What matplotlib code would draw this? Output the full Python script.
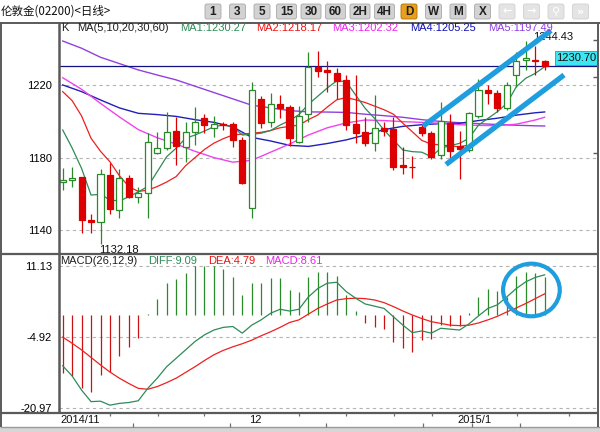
import matplotlib
matplotlib.use('Agg')
import matplotlib.pyplot as plt
from matplotlib.patches import Rectangle, FancyBboxPatch, Ellipse

W, H = 600, 432

# ---------------- data ----------------
opens = [1166.5, 1167.6, 1169.1, 1145.5, 1144.2, 1170.4, 1151.0, 1168.6, 1158.4, 1160.6,
         1182.4, 1185.2, 1194.7, 1186.0, 1194.3, 1201.7, 1196.5, 1198.6, 1198.4, 1189.7,
         1152.0, 1212.4, 1199.7, 1209.6, 1208.2, 1188.8, 1204.1, 1230.0, 1228.5, 1226.6,
         1222.9, 1198.4, 1194.3, 1188.0, 1196.2, 1195.7, 1175.9, 1174.8, 1197.1, 1193.5,
         1181.4, 1199.0, 1186.6, 1184.2, 1203.2, 1217.4, 1215.6, 1207.3, 1225.7, 1234.0,
         1234.0, 1233.4]
highs = [1174.3, 1174.6, 1169.5, 1148.8, 1173.7, 1176.9, 1173.5, 1170.4, 1164.0, 1193.5,
         1194.3, 1205.1, 1202.6, 1199.5, 1208.2, 1204.0, 1203.0, 1199.5, 1199.9, 1191.2,
         1222.0, 1214.2, 1215.6, 1214.6, 1209.0, 1208.6, 1238.6, 1239.1, 1233.6, 1229.4,
         1225.7, 1225.7, 1202.6, 1214.6, 1199.8, 1202.6, 1185.7, 1180.9, 1198.5, 1194.5,
         1210.6, 1204.0, 1194.7, 1205.0, 1223.5, 1220.2, 1217.4, 1222.0, 1238.6, 1244.43,
         1242.0, 1234.0]
lows = [1162.1, 1163.5, 1138.1, 1138.5, 1132.18, 1148.8, 1146.4, 1157.5, 1154.7, 1146.8,
        1181.8, 1184.2, 1175.9, 1177.4, 1187.0, 1193.5, 1191.5, 1195.5, 1186.0, 1165.5,
        1146.8, 1196.2, 1196.8, 1201.7, 1186.4, 1188.0, 1199.9, 1224.8, 1216.5, 1212.2,
        1195.3, 1188.3, 1186.4, 1183.8, 1192.0, 1173.2, 1170.9, 1168.6, 1192.0, 1179.5,
        1179.0, 1180.0, 1168.2, 1183.0, 1202.0, 1209.5, 1205.0, 1206.5, 1219.2, 1228.5,
        1225.7, 1228.6]
closes = [1167.6, 1168.9, 1145.5, 1144.4, 1171.0, 1151.4, 1168.6, 1158.4, 1160.6, 1188.5,
          1185.2, 1194.0, 1186.6, 1194.0, 1199.9, 1198.0, 1198.4, 1197.9, 1189.7, 1166.1,
          1217.4, 1199.0, 1209.6, 1207.6, 1190.7, 1203.0, 1230.0, 1228.0, 1227.2, 1222.5,
          1198.0, 1193.8, 1188.3, 1196.2, 1194.9, 1175.0, 1174.6, 1174.6, 1193.8, 1180.5,
          1200.2, 1183.7, 1184.8, 1204.5, 1217.4, 1215.6, 1207.3, 1220.2, 1233.4, 1234.9,
          1233.6, 1230.70]

ma1 = [1195.3, 1185.3, 1174.0, 1159.3, 1159.7, 1156.6, 1156.0, 1158.4, 1161.1, 1164.0,
       1172.2, 1180.5, 1185.2, 1190.7, 1192.5, 1194.7, 1197.1, 1198.0, 1197.1, 1192.5,
       1192.9, 1193.5, 1195.0, 1198.0, 1200.5, 1203.8, 1209.5, 1214.0, 1218.5, 1222.5,
       1222.0, 1214.6, 1207.3, 1201.7, 1195.3, 1189.7, 1184.2, 1183.3, 1183.0, 1180.5,
       1185.2, 1186.6, 1187.9, 1190.7, 1198.0, 1201.7, 1205.4, 1210.0, 1219.2, 1223.9,
       1226.6, 1230.27]
ma2 = [1216.5, 1211.5, 1203.0, 1190.7, 1183.5, 1177.7, 1170.0, 1164.0, 1161.3, 1162.0,
       1164.0, 1166.5, 1169.5, 1175.5, 1180.0, 1184.5, 1188.0, 1190.5, 1192.5, 1193.0,
       1193.5, 1194.0, 1195.0, 1196.5, 1197.3, 1198.0, 1201.0, 1203.6, 1208.0, 1212.0,
       1213.2, 1212.0, 1210.5, 1208.5, 1206.5, 1204.0, 1199.0, 1194.3, 1189.5, 1187.5,
       1187.0, 1186.5, 1186.0, 1187.0, 1189.0, 1193.0, 1197.0, 1200.8, 1204.5, 1209.0,
       1214.0, 1218.17]
slow_idx = [0, 2, 4, 6, 8, 10, 12, 14, 16, 18, 20, 22, 24, 26, 28, 30, 32, 34, 36, 38,
            40, 42, 44, 46, 48, 50, 51]
ma3 = [1224.2, 1217.8, 1210.0, 1202.5, 1195.5, 1191.0, 1187.5, 1183.5, 1180.0, 1177.5,
       1178.5, 1183.0, 1187.5, 1192.5, 1196.5, 1199.2, 1200.8, 1200.5, 1199.9, 1199.5,
       1199.0, 1198.2, 1197.8, 1197.7, 1198.5, 1200.8, 1202.32]
ma4 = [1220.2, 1216.5, 1211.9, 1207.5, 1204.5, 1203.8, 1202.8, 1201.0, 1199.5, 1197.0,
       1191.2, 1189.2, 1186.8, 1186.2, 1187.8, 1189.8, 1192.5, 1195.5, 1197.3, 1198.2,
       1198.8, 1199.0, 1200.5, 1201.8, 1203.5, 1204.8, 1205.25]
ma5 = [1244.5, 1240.5, 1235.5, 1232.0, 1228.5, 1225.7, 1223.0, 1219.5, 1216.0, 1212.5,
       1209.0, 1207.5, 1206.0, 1205.3, 1205.2, 1205.0, 1204.0, 1203.2, 1202.3, 1201.0,
       1200.0, 1199.3, 1198.8, 1198.3, 1197.9, 1197.6, 1197.49]

macd_hist = [-13.1, -13.9, -16.6, -17.4, -13.6, -12.8, -9.3, -7.2, -5.1, 0.3,
             3.6, 7.2, 8.1, 9.4, 11.1, 11.1, 11.1, 10.3, 8.7, 4.5,
             7.2, 7.2, 8.3, 8.3, 5.7, 5.2, 8.7, 9.8, 9.8, 8.8,
             4.5, 1.0, -1.9, -2.8, -3.2, -6.0, -7.5, -8.3, -5.7, -5.5,
             -2.3, -2.5, -2.5, 0.5, 4.1, 5.8, 5.5, 4.1, 8.8, 9.8,
             9.6, 8.61]
diff = [-11.5, -13.8, -17.0, -19.6, -19.5, -20.4, -20.0, -19.8, -19.4, -16.6,
        -14.3, -11.7, -9.8, -7.9, -6.0, -4.5, -3.4, -2.8, -2.6, -4.1,
        -2.3, -1.1, 0.4, 1.3, 0.9, 1.3, 4.1, 6.0, 7.2, 7.4,
        5.3, 3.8, 2.5, 2.0, 1.5, -0.4, -2.3, -4.0, -3.6, -4.1,
        -3.0, -3.2, -3.4, -2.0, -0.2, 1.5, 2.3, 4.1, 6.0, 7.5,
        8.5, 9.09]
dea = [-5.0, -6.4, -7.9, -9.6, -11.3, -12.9, -14.3, -15.5, -16.6, -16.8,
       -16.2, -15.3, -14.3, -13.0, -11.7, -10.3, -9.0, -8.0, -7.2, -6.5,
       -5.7, -4.7, -3.8, -2.8, -1.7, -1.1, 0.2, 1.5, 2.5, 3.4,
       3.7, 3.8, 3.7, 3.4, 2.8, 1.9, 0.9, 0.0, -0.8, -1.5,
       -1.9, -2.3, -2.4, -2.3, -1.8, -1.1, -0.3, 0.7, 1.6, 2.6,
       3.7, 4.79]

price_ticks = [1140, 1180, 1220]
macd_ticks = [-20.97, -4.92, 11.13]
date_labels = ['2014/11', '12', '2015/1']
date_label_idx = [0, 20, 42]
last_price = 1230.70
high_label = '1244.43'
low_label = '1132.18'

# hand-drawn channel and circle (data coordinates)
chan_up_x, chan_up_y = [38.13, 51.67], [1197.4, 1250.3]
chan_lo_x, chan_lo_y = [40.56, 53.05], [1176.2, 1225.7]
circle_center = (49.6, 5.66)
circle_size = (6.0, 11.9)

toolbar_buttons = ['1', '3', '5', '15', '30', '60', '2H', '4H', 'D', 'W', 'M', 'X']
title = '伦敦金(02200)<日线>'

legend_main = [('K', '#202020', 61), ('MA(5,10,20,30,60)', '#202020', 77),
               ('MA1:1230.27', '#2e8b57', 180), ('MA2:1218.17', '#ee1111', 256),
               ('MA3:1202.32', '#ee22ee', 332), ('MA4:1205.25', '#1010b0', 410),
               ('MA5:1197.49', '#9040e0', 488)]
legend_macd = [('MACD(26,12,9)', '#202020', 60), ('DIFF:9.09', '#2e8b57', 148),
               ('DEA:4.79', '#ee1111', 208), ('MACD:8.61', '#ee22ee', 265)]

# ---------------- layout helpers ----------------
plt.rcParams['font.family'] = ['Liberation Sans', 'DejaVu Sans']
fig = plt.figure(figsize=(6, 4.32), dpi=100, facecolor='white')

def rect(x0, y0, x1, y1):
    return [x0 / W, 1 - y1 / H, (x1 - x0) / W, (y1 - y0) / H]

PX0, PX1 = 59, 597
def idx_of(px):
    return (px - 62.7) / 9.45

ax = fig.add_axes(rect(PX0, 22, PX1, 253))
axm = fig.add_axes(rect(PX0, 255, PX1, 412))
for a in (ax, axm):
    a.set_xlim(idx_of(PX0), idx_of(PX1))
    for s in a.spines.values():
        s.set_visible(False)
    a.set_xticks([])
    a.set_facecolor('white')
    a.tick_params(axis='y', length=0, pad=5, labelsize=8, labelcolor='black')

ax.set_ylim(1220 - (253 - 85.3) / 1.808, 1220 + (85.3 - 22) / 1.808)
axm.set_ylim((315 - 412) / 4.42, (315 - 255) / 4.42)

ax.set_yticks(price_ticks)
ax.set_yticklabels([str(t) for t in price_ticks])
axm.set_yticks(macd_ticks)
axm.set_yticklabels([f'{t:.2f}' for t in macd_ticks])
for a in (ax, axm):
    a.grid(axis='y', linestyle=(0, (3, 3)), color='#b4b4b4', linewidth=0.8)
    a.set_axisbelow(True)

n = len(opens)
xs = list(range(n))
RED = '#dd0000'
GRN = '#2a8a2a'

# moving averages
ax.plot(slow_idx, ma5, color='#9040e0', lw=1.0, zorder=2)
ax.plot(slow_idx, ma4, color='#2020b8', lw=1.0, zorder=2)
ax.plot(slow_idx, ma3, color='#ee44ee', lw=1.0, zorder=2)
ax.plot(xs, ma2, color='#ee2020', lw=0.9, zorder=2)
ax.plot(xs, ma1, color='#2e8b57', lw=0.9, zorder=2)

# candles
for i in xs:
    o, h, l, c = opens[i], highs[i], lows[i], closes[i]
    col = GRN if c >= o else RED
    lo_b, hi_b = min(o, c), max(o, c)
    ax.plot([i, i], [l, lo_b], color=col, lw=0.9, zorder=3, solid_capstyle='butt')
    ax.plot([i, i], [hi_b, h], color=col, lw=0.9, zorder=3, solid_capstyle='butt')
    hgt = max(hi_b - lo_b, 0.4)
    if c >= o:
        ax.add_patch(Rectangle((i - 0.32, lo_b), 0.64, hgt, facecolor='white',
                               edgecolor=GRN, lw=0.9, zorder=4))
    else:
        ax.add_patch(Rectangle((i - 0.32, lo_b), 0.64, hgt, facecolor=RED,
                               edgecolor=RED, lw=0.9, zorder=4))

# last price line and labels
ax.axhline(last_price, color='#101080', lw=0.9, zorder=2.5)
i_hi = highs.index(max(highs))
ax.text(i_hi + 0.75, max(highs) + 2.3, high_label, fontsize=8, color='#101010',
        ha='left', va='center', zorder=6, clip_on=False)
i_lo = lows.index(min(lows))
ax.text(i_lo - 0.1, min(lows) - 0.3, low_label, fontsize=8, color='#101010',
        ha='left', va='top', zorder=6, clip_on=False)

# channel lines
CH = '#1e9ede'
ax.plot(chan_up_x, chan_up_y, color=CH, lw=3.8, solid_capstyle='butt', zorder=7)
ax.plot(chan_lo_x, chan_lo_y, color=CH, lw=3.8, solid_capstyle='butt', zorder=7)

# MACD
for i in xs:
    v = macd_hist[i]
    axm.plot([i, i], [0, v], color=(GRN if v >= 0 else '#cc1111'), lw=0.9,
             solid_capstyle='butt', zorder=2)
axm.plot(xs, dea, color='#ee2020', lw=0.9, zorder=3)
axm.plot(xs, diff, color='#2e8b57', lw=0.9, zorder=3)
axm.add_patch(Ellipse(circle_center, circle_size[0], circle_size[1], fill=False,
                      edgecolor=CH, lw=3.0, zorder=5))

# ---------------- overlay (pixel coords) ----------------
ov = fig.add_axes([0, 0, 1, 1], zorder=10)
ov.set_xlim(0, W)
ov.set_ylim(H, 0)
ov.axis('off')
ov.patch.set_alpha(0)

FR = '#5a5a5a'
def hline(y, x0, x1, lw=1.4, c=FR):
    ov.plot([x0, x1], [y, y], color=c, lw=lw, solid_capstyle='butt')
def vline(x, y0, y1, lw=1.4, c=FR):
    ov.plot([x, x], [y0, y1], color=c, lw=lw, solid_capstyle='butt')

hline(22.5, 0, 600)
hline(254, 0, 597.5, lw=1.6)
hline(412.5, 0, 597.5, lw=1.6)
hline(427, 0, 600, lw=1.0, c='#9a9a9a')
vline(1, 22, 427)
vline(59, 22, 413, lw=1.8)
vline(597.5, 22, 427)
ov.add_patch(Rectangle((0, 427.5), 600, 5, facecolor='#d6d6d6', edgecolor='none'))

# right axis small ticks
for yy in (40, 77, 153):
    hline(yy, 593, 597.5, lw=1.0)

# date axis ticks and labels
for xx in (110, 158, 204, 299, 346, 394, 432, 517, 569):
    vline(xx, 412.5, 416, lw=0.9, c='#707070')
for xx in (133, 230, 326, 423, 472, 520):
    vline(xx, 423, 427, lw=0.9, c='#707070')
for lab, i in zip(date_labels, date_label_idx):
    px = 62.7 + 9.45 * i - 2.5
    ov.text(px, 420, lab, fontsize=8, color='#101010', ha='left', va='center')

# legends
for txt, col, x in legend_main:
    ov.text(x, 28, txt, fontsize=8, color=col, ha='left', va='center')
for txt, col, x in legend_macd:
    ov.text(x, 261, txt, fontsize=8, color=col, ha='left', va='center')

# last price box
ov.add_patch(Rectangle((555, 51), 42, 14, facecolor='#3ee6f2', edgecolor='#20a0b0', lw=0.6))
ov.text(576, 58.2, f'{last_price:.2f}', fontsize=8, color='#101010', ha='center', va='center')

# toolbar
ov.text(1, 11.5, title, fontsize=8.3, color='#101010', ha='left', va='center',
        family=['Noto Sans CJK SC', 'DejaVu Sans'])
for k in range(16):
    cx = 213 + 24.5 * k
    if k < len(toolbar_buttons):
        lab = toolbar_buttons[k]
        w = 16 if len(lab) == 1 else 20
        fc = '#e8a01c' if lab == 'D' else '#d2d2d2'
        ec = '#b07000' if lab == 'D' else '#a8a8a8'
        ov.add_patch(FancyBboxPatch((cx - w / 2, 4), w, 15, boxstyle='round,pad=0,rounding_size=2',
                                    facecolor=fc, edgecolor=ec, lw=0.6))
        ov.text(cx, 11.8, lab, fontsize=8.5, fontweight='bold', color='#202020',
                ha='center', va='center')
    else:
        ov.add_patch(FancyBboxPatch((cx - 8, 4), 16, 15, boxstyle='round,pad=0,rounding_size=2',
                                    facecolor='#e4e4e4', edgecolor='#d0d0d0', lw=0.6))
        g = ['←', '→', '⚲', '»'][k - len(toolbar_buttons)]
        ov.text(cx, 11.5, g, fontsize=8, fontweight='bold', color='white',
                ha='center', va='center', family=['DejaVu Sans'])

fig.savefig('out.png', dpi=100, facecolor='white')
